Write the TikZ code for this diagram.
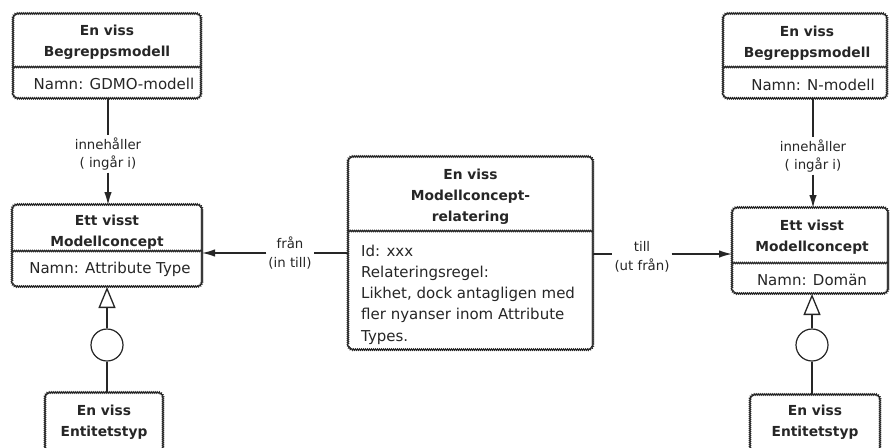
\documentclass[tikz,border=0pt]{standalone}
\usepackage{fontspec}
\setmainfont{DejaVu Sans}
\usetikzlibrary{arrows.meta,decorations.pathmorphing}

\begin{document}
\begin{tikzpicture}[x=1pt,y=-1pt,
  wavy/.style={decorate, decoration={snake, segment length=2pt, amplitude=0.7pt}},
  umlbox/.style={rectangle, inner sep=0pt, outer sep=0pt},
  divider/.style={draw=black!85, line width=1.1pt, wavy},
  title/.style={font=\bfseries\fontsize{13.8}{21}\selectfont, align=center,
    inner sep=0pt, text=black!85},
  body/.style={font=\fontsize{15}{21.2}\selectfont, inner sep=0pt, text=black!85},
  lab/.style={font=\fontsize{13.3}{18.5}\selectfont, align=center, inner sep=2pt,
    text=black!85},
  conn/.style={draw=black!85, line width=1.4pt},
  arr/.style={conn, -{Latex[length=13pt,width=7.5pt]}},
  inh/.style={conn, -{Triangle[open,length=21pt,width=17pt,fill=white,line width=1.3pt]}},
  lollipop/.style={circle, draw=black!85, line width=1.2pt, minimum size=32pt,
    inner sep=0pt, fill=white},
]
% rounded outline of a box, rounded before the wavy decoration is applied
\def\outline#1{\draw[divider] {[rounded corners=5pt] (#1.south west) rectangle (#1.north east)};}
\clip (0,0) rectangle (890,447);
\fill[white] (0,0) rectangle (890,447);

% ---------- left column ----------
\node[umlbox, minimum width=188pt, minimum height=85pt] (bm1) at (107,56.5) {};
\outline{bm1}
\draw[divider] (bm1.west |- 0,67) -- (bm1.east |- 0,67);
\node[title] (bm1t) at (107,42.5) {En viss\\Begreppsmodell};
\node[body] (bm1n) at (114,84) {Namn: GDMO-modell};

\node[umlbox, minimum width=190pt, minimum height=82pt] (mc1) at (107,246) {};
\outline{mc1}
\draw[divider] (mc1.west |- 0,251) -- (mc1.east |- 0,251);
\node[title] (mc1t) at (107,232) {Ett visst\\Modellconcept};
\node[body] (mc1n) at (110,269) {Namn: Attribute Type};

\node[lab] (inn1) at (108,154) {innehåller\\( ingår i)};
\draw[conn] (bm1.south -| inn1) -- (inn1.north);
\draw[arr] (inn1.south) -- (inn1.south |- mc1.north);

\node[lollipop] (c1) at (107,345) {};
\node[umlbox, minimum width=118pt, minimum height=77pt] (et1) at (104,431.5) {};
\outline{et1}
\node[title] (et1t) at (104,422) {En viss\\Entitetstyp};
\draw[conn] (c1.south) -- (c1.south |- et1.north);
\draw[inh] (c1.north) -- (c1.north |- mc1.south);

% ---------- right column ----------
\node[umlbox, minimum width=164pt, minimum height=85pt] (bm2) at (805,56.5) {};
\outline{bm2}
\draw[divider] (bm2.west |- 0,67) -- (bm2.east |- 0,67);
\node[title] (bm2t) at (807,43) {En viss\\Begreppsmodell};
\node[body] (bm2n) at (813,85) {Namn: N-modell};

\node[umlbox, minimum width=156pt, minimum height=86pt] (mc2) at (810,251) {};
\outline{mc2}
\draw[divider] (mc2.west |- 0,263) -- (mc2.east |- 0,263);
\node[title] (mc2t) at (812,237) {Ett visst\\Modellconcept};
\node[body] (mc2n) at (812,280) {Namn: Domän};

\node[lab] (inn2) at (813,156) {innehåller\\( ingår i)};
\draw[conn] (bm2.south -| inn2) -- (inn2.north);
\draw[arr] (inn2.south) -- (inn2.south |- mc2.north);

\node[lollipop] (c2) at (812,345) {};
\node[umlbox, minimum width=130pt, minimum height=75pt] (et2) at (815,432.5) {};
\outline{et2}
\node[title] (et2t) at (815,422) {En viss\\Entitetstyp};
\draw[conn] (c2.south) -- (c2.south |- et2.north);
\draw[inh] (c2.north) -- (c2.north |- mc2.south);

% ---------- relation in the middle ----------
\node[umlbox, minimum width=245pt, minimum height=193pt] (rel) at (470.5,253.5) {};
\outline{rel}
\draw[divider] (rel.west |- 0,231) -- (rel.east |- 0,231);
\node[title] (relt) at (470.5,196.5) {En viss\\Modellconcept-\\relatering};
\node[body, align=left, anchor=west] (relb) at (361,294.5)
  {Id: xxx\\Relateringsregel:\\Likhet, dock antagligen med\\fler nyanser inom Attribute\\Types.};

\node[lab] (fran) at (290,253) {från\\(in till)};
\draw[conn] (rel.west |- fran) -- (fran.east);
\draw[arr] (fran.west) -- (mc1.east |- fran);

\node[lab] (till) at (642,257) {till\\(ut från)};
\draw[conn] (rel.east |- 0,254) -- (till.west |- 0,254);
\draw[arr] (till.east |- 0,254) -- (mc2.west |- 0,254);
\end{tikzpicture}
\end{document}
